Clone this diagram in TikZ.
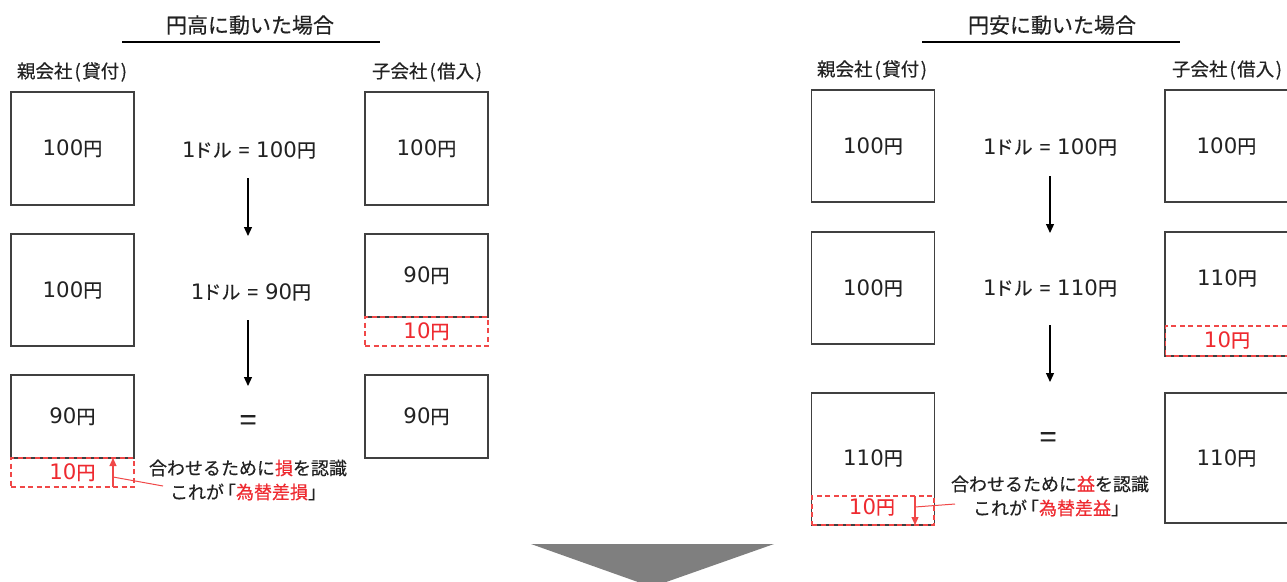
\documentclass[tikz,border=0pt]{standalone}
\usepackage{fontspec}
\setmainfont{Noto Sans CJK JP}[FakeBold=0.4]
\newfontfamily\latf{DejaVu Sans}[Scale=1.12]
\newcommand\dg[1]{{\latf #1}}
\newcommand\rate[1]{\dg{1}\hspace{-2pt}ドル\hspace{7pt}=\hspace{7pt}\dg{#1}円}
\usetikzlibrary{arrows.meta}
\definecolor{txt}{HTML}{222222}
\definecolor{boxc}{HTML}{404040}
\definecolor{redt}{HTML}{EE2A30}
\definecolor{redd}{HTML}{F04848}
\definecolor{tri}{HTML}{7F7F7F}
\begin{document}
\begin{tikzpicture}[x=1pt,y=-1pt,
 box/.style={draw=boxc, line width=1.2pt, minimum width=123pt, inner sep=0pt, text=txt, font=\fontsize{19}{22}\selectfont},
 redbox/.style={draw=redd, line width=1.2pt, dash pattern=on 5pt off 3.5pt, minimum width=123pt, inner sep=0pt, text=redt, font=\fontsize{19}{22}\selectfont},
 val/.style={text=txt, inner sep=0pt, font=\fontsize{19}{22}\selectfont},
 rval/.style={text=redt, inner sep=0pt, font=\fontsize{19}{22}\selectfont},
 lbl/.style={text=txt, inner sep=0pt, font=\fontsize{18.5}{21}\selectfont},
 ttl/.style={text=txt, inner sep=0pt, font=\fontsize{21}{24}\selectfont},
 conv/.style={text=txt, inner sep=0pt, font=\fontsize{19}{22}\selectfont},
 eqs/.style={text=txt, inner sep=0pt, font=\fontsize{30}{32}\selectfont},
 note/.style={text=txt, inner sep=0pt, font=\fontsize{18}{21}\selectfont},
 arr/.style={draw=black, line width=1.2pt, -{Triangle[length=9pt,width=8pt]}},
 rarr/.style={draw=redd, line width=1.2pt, -{Triangle[length=8pt,width=7pt]}},
 rline/.style={draw=redd, line width=1pt},
 uline/.style={draw=black, line width=1.8pt},
]
\useasboundingbox (0,0) rectangle (1287,581);
\clip (0,0) rectangle (1287,581);

% ===== Left panel: 円高 =====
\node[ttl] (T1) at (250,25) {円高に動いた場合};
\coordinate (U1a) at (122,42);
\coordinate (U1b) at (380,42);
\draw[uline] (U1a) -- (U1b);
\node[lbl] (P1) at (72,72) {親会社\hspace{2pt}(\hspace{1.5pt}貸付\hspace{1.5pt})};
\node[lbl] (S1) at (427,72) {子会社\hspace{2pt}(\hspace{1.5pt}借入\hspace{1.5pt})};

\node[box, minimum height=113pt] (L1) at (72.5,148.5) {\dg{100}円};
\node[box, minimum height=112pt] (L2) at (72.5,290) {\dg{100}円};
\node[box, minimum height=83pt] (L3) at (72.5,416.5) {\dg{90}円};
\node[redbox, minimum height=29pt] (L3r) at (72.5,472.5) {\dg{10}円};

\node[box, minimum height=113pt] (R1) at (426.5,148.5) {\dg{100}円};
\node[box, minimum height=83pt] (R2) at (426.5,275.5) {\dg{90}円};
\node[redbox, minimum height=29pt] (R2r) at (426.5,331.5) {\dg{10}円};
\node[box, minimum height=83pt] (R3) at (426.5,416.5) {\dg{90}円};

\node[conv] (C1) at (249,150) {\rate{100}};
\node[conv] (C2) at (251,292) {\rate{90}};
\node[eqs] (E1) at (248,423) {=};
\coordinate (A1s) at (248,178);
\coordinate (A1e) at (248,236);
\coordinate (A2s) at (248,320);
\coordinate (A2e) at (248,386);
\draw[arr] (A1s) -- (A1e);
\draw[arr] (A2s) -- (A2e);

\node[note] (N1a) at (248,468) {合わせるために{\color{redt}損}を認識};
\node[note] (N1b) at (248,492) {これが\hspace{-6pt}「{\color{redt}為替差損}」};
\coordinate (RA1s) at (113,487);
\coordinate (RA1e) at (113,458);
\coordinate (RL1s) at (113,477);
\coordinate (RL1e) at (163,486);
\draw[rarr] (RA1s) -- (RA1e);
\draw[rline] (RL1s) -- (RL1e);

% ===== Right panel: 円安 =====
\node[ttl] (T2) at (1052,25) {円安に動いた場合};
\coordinate (U2a) at (922,42);
\coordinate (U2b) at (1180,42);
\draw[uline] (U2a) -- (U2b);
\node[lbl] (P2) at (872,70) {親会社\hspace{2pt}(\hspace{1.5pt}貸付\hspace{1.5pt})};
\node[lbl] (S2) at (1227,70) {子会社\hspace{2pt}(\hspace{1.5pt}借入\hspace{1.5pt})};

\node[box, minimum height=112pt] (PL1) at (873,146) {\dg{100}円};
\node[box, minimum height=112pt] (PL2) at (873,288) {\dg{100}円};
\node[box, minimum height=132pt] (PL3) at (873,459) {};
\node[val] (PL3t) at (873,458) {\dg{110}円};
\node[redbox, minimum height=29pt, minimum width=122pt] (PL3r) at (873,510.5) {};
\node[rval] (PL3rt) at (872,507) {\dg{10}円};

\node[box, minimum height=112pt] (PR1) at (1226.5,146) {\dg{100}円};
\node[box, minimum height=124pt] (PR2) at (1226.5,294) {};
\node[val] (PR2t) at (1227,278) {\dg{110}円};
\node[redbox, minimum height=30pt, minimum width=122pt] (PR2r) at (1226.5,341) {};
\node[rval] (PR2rt) at (1227,340) {\dg{10}円};
\node[box, minimum height=130pt] (PR3) at (1226.5,458) {\dg{110}円};

\node[conv] (C3) at (1050,147) {\rate{100}};
\node[conv] (C4) at (1050,288) {\rate{110}};
\node[eqs] (E2) at (1048,440) {=};
\coordinate (A3s) at (1050,176);
\coordinate (A3e) at (1050,233);
\coordinate (A4s) at (1050,325);
\coordinate (A4e) at (1050,382);
\draw[arr] (A3s) -- (A3e);
\draw[arr] (A4s) -- (A4e);

\node[note] (N2a) at (1050,484) {合わせるために{\color{redt}益}を認識};
\node[note] (N2b) at (1051,508) {これが\hspace{-6pt}「{\color{redt}為替差益}」};
\coordinate (RA2s) at (915,496);
\coordinate (RA2e) at (915,525);
\coordinate (RL2s) at (915,507);
\coordinate (RL2e) at (955,504);
\draw[rarr] (RA2s) -- (RA2e);
\draw[rline] (RL2s) -- (RL2e);

% ===== bottom arrow =====
\fill[tri] (531,544) -- (774,544) -- (652,587) -- cycle;
\end{tikzpicture}
\end{document}
